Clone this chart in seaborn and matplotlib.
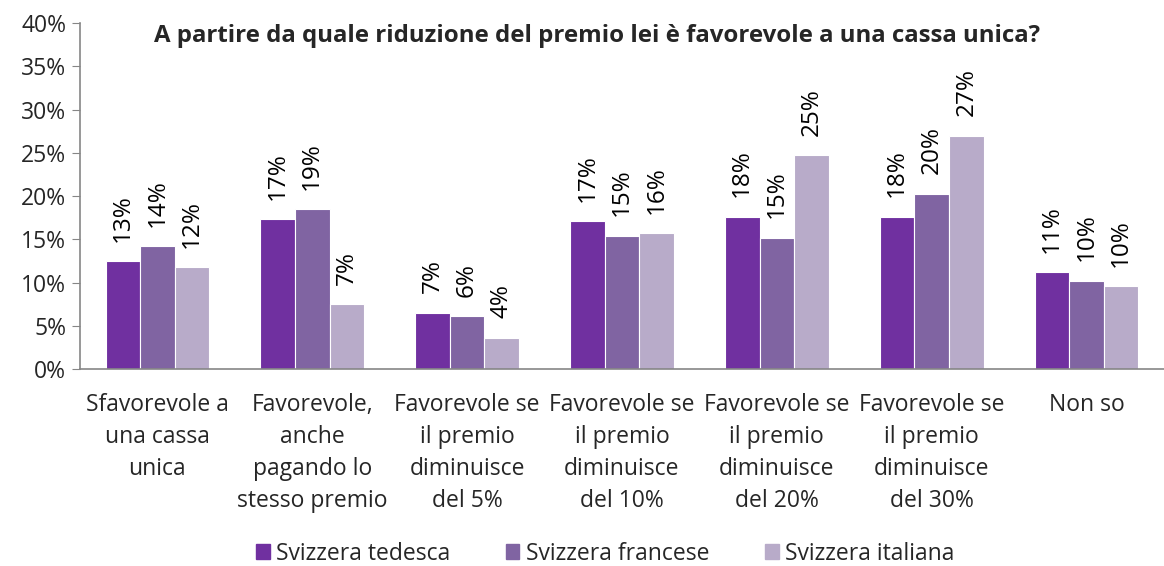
import pandas as pd
import seaborn as sns
import matplotlib.pyplot as plt
from matplotlib.ticker import PercentFormatter, FixedLocator

categories = [
    "Sfavorevole a\nuna cassa\nunica",
    "Favorevole,\nanche\npagando lo\nstesso premio",
    "Favorevole se\nil premio\ndiminuisce\ndel 5%",
    "Favorevole se\nil premio\ndiminuisce\ndel 10%",
    "Favorevole se\nil premio\ndiminuisce\ndel 20%",
    "Favorevole se\nil premio\ndiminuisce\ndel 30%",
    "Non so",
]
regions = ["Svizzera tedesca", "Svizzera francese", "Svizzera italiana"]
tedesca = [12.5, 17.3, 6.5, 17.1, 17.6, 17.6, 11.2]
francese = [14.2, 18.5, 6.1, 15.4, 15.2, 20.3, 10.2]
italiana = [11.8, 7.5, 3.6, 15.7, 24.7, 27.0, 9.6]
labels_tedesca = [13, 17, 7, 17, 18, 18, 11]
labels_francese = [14, 19, 6, 15, 15, 20, 10]
labels_italiana = [12, 7, 4, 16, 25, 27, 10]
colors = ["#7030A0", "#8064A2", "#B8ABC9"]

rows = []
for reg, vals in zip(regions, [tedesca, francese, italiana]):
    for cat, v in zip(categories, vals):
        rows.append({"cat": cat, "region": reg, "value": v})
df = pd.DataFrame(rows)

sns.set_style("white")
plt.rcParams["font.family"] = ["Open Sans", "DejaVu Sans"]
fs = 16.5

fig = plt.figure(figsize=(11.64, 5.66), dpi=100)
ax = fig.add_axes([0.0687, 0.348, 0.9313, 0.611])

sns.barplot(data=df, x="cat", y="value", hue="region", order=categories,
            hue_order=regions, palette=colors, width=0.67, saturation=1,
            edgecolor="white", linewidth=0.8, ax=ax)

for cont, labs in zip(ax.containers, [labels_tedesca, labels_francese, labels_italiana]):
    ax.bar_label(cont, labels=[f"{v}%" for v in labs], rotation=90,
                 padding=14, fontsize=17.5, color="#000000")

ax.set_ylim(0, 40)
ax.set_yticks(range(0, 41, 5))
ax.yaxis.set_major_formatter(PercentFormatter(decimals=0))
ax.set_xlim(-0.5, len(categories) - 0.5)
ax.xaxis.set_minor_locator(FixedLocator([i - 0.5 for i in range(len(categories) + 1)]))
ax.tick_params(axis="x", which="major", length=0, labelsize=fs, pad=17)
ax.tick_params(axis="x", which="minor", length=6, color="#868686", direction="out")
ax.tick_params(axis="y", length=6, color="#868686", direction="out", labelsize=fs, pad=4, left=True)
for lbl in ax.get_xticklabels():
    lbl.set_linespacing(1.45)

for s in ["top", "right"]:
    ax.spines[s].set_visible(False)
for s in ["left", "bottom"]:
    ax.spines[s].set_color("#868686")
    ax.spines[s].set_linewidth(1.2)

ax.set_xlabel("")
ax.set_ylabel("")
fig.text(0.513, 0.937, "A partire da quale riduzione del premio lei è favorevole a una cassa unica?",
         ha="center", va="center", fontsize=17.3, fontweight="bold")

ax.legend_.remove()
handles = [plt.Rectangle((0, 0), 1, 1, color=c) for c in colors]
fig.legend(handles, regions, loc="center", bbox_to_anchor=(0.52, 0.022), ncol=3,
           frameon=False, fontsize=fs, handlelength=0.6, handleheight=0.6,
           handletextpad=0.3, columnspacing=2.4)

fig.savefig("out.png", dpi=100)
